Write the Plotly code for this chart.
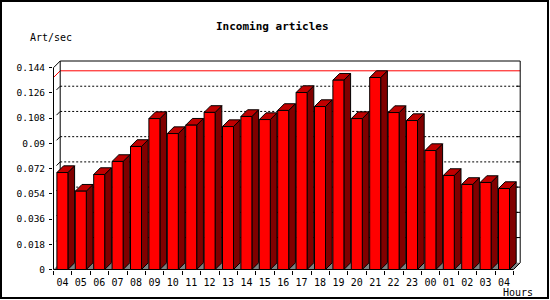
import plotly.graph_objects as go

# ---------------- data ----------------
hours = ["04", "05", "06", "07", "08", "09", "10", "11", "12", "13", "14", "15",
         "16", "17", "18", "19", "20", "21", "22", "23", "00", "01", "02", "03", "04"]
art_per_sec = [0.0692, 0.0559, 0.0678, 0.0771, 0.0878, 0.1077, 0.0970, 0.1030,
               0.1121, 0.1020, 0.1092, 0.1070, 0.1135, 0.1263, 0.1163, 0.1351,
               0.1077, 0.1370, 0.1120, 0.1063, 0.0849, 0.0671, 0.0607, 0.0621,
               0.0578]
y_ticks = [0, 0.018, 0.036, 0.054, 0.072, 0.09, 0.108, 0.126, 0.144]
y_tick_text = ["0", "0.018", "0.036", "0.054", "0.072", "0.09", "0.108", "0.126", "0.144"]
title_text = "Incoming articles"
y_title = "Art/sec"
x_title = "Hours"

# ---------------- geometry ----------------
W, H = 550, 300
L, R, T, B = 53, 29, 55, 30
PW, PH = W - L - R, H - T - B
PX_CAT = 18.4
PX_UNIT = 1401.4
DEPTH = 6.7
dx = DEPTH / PX_CAT
dy = DEPTH / PX_UNIT
bar_off = 3.4 / PX_CAT
bar_w = 11.0 / PX_CAT
x0 = -0.5 / PX_CAT
y0 = -0.5 / PX_UNIT
xrange = [x0, x0 + PW / PX_CAT]
yrange = [y0, y0 + PH / PX_UNIT]

n = len(hours)
top = y_ticks[-1]
vmax = max(art_per_sec)
xl = [k + bar_off for k in range(n)]
xr = [x + bar_w for x in xl]
xc = [x + bar_w / 2 for x in xl]

FONT = "DejaVu Sans Mono"
RED, SIDE, TOPC, GREY = "#ff0000", "#800000", "#c00000", "#808080"


def seg_trace(xs, ys, color="black", width=1, dash="solid", fill=None, fillcolor=None):
    return go.Scatter(x=xs, y=ys, mode="lines", fill=fill, fillcolor=fillcolor,
                      line=dict(color=color, width=width, dash=dash),
                      hoverinfo="skip", showlegend=False)


fig = go.Figure()

# floor (grey)
fig.add_trace(seg_trace([0, n, n + dx, dx, 0], [0, 0, dy, dy, 0],
                        color=GREY, width=0, fill="toself", fillcolor=GREY))

# dotted grid on back wall
gx, gy = [], []
for v in y_ticks[1:-1]:
    gx += [dx, n + dx, None]
    gy += [v + dy, v + dy, None]
fig.add_trace(seg_trace(gx, gy, dash="2px,2px"))

# wall stubs and right ticks
sx, sy = [], []
for v in y_ticks[1:-1]:
    sx += [dx * 0.45, dx, None, n + dx - 0.2, n + dx, None]
    sy += [v + dy * 0.45, v + dy, None, v + dy, v + dy, None]
fig.add_trace(seg_trace(sx, sy))

# max line (red)
fig.add_trace(seg_trace([0, dx, n + dx], [vmax, vmax + dy, vmax + dy], color=RED))

# frame lines: front axis, back wall, floor edges
fx = [0, 0, dx, n + dx, n + dx, n, 0, None, dx, dx]
fy = [0, top, top + dy, top + dy, dy, 0, 0, None, dy, top + dy]
fig.add_trace(seg_trace(fx, fy))

# side faces
sdx, sdy = [], []
for a, v in zip(xr, art_per_sec):
    sdx += [a, a, a + dx, a + dx, a, None]
    sdy += [0, v, v + dy, dy, 0, None]
fig.add_trace(seg_trace(sdx, sdy, fill="toself", fillcolor=SIDE))

# top faces
tx, ty = [], []
for a, b, v in zip(xl, xr, art_per_sec):
    tx += [a, b, b + dx, a + dx, a, None]
    ty += [v, v, v + dy, v + dy, v, None]
fig.add_trace(seg_trace(tx, ty, fill="toself", fillcolor=TOPC))

# front faces
ffx, ffy = [], []
for a, b, v in zip(xl, xr, art_per_sec):
    ffx += [a, b, b, a, a, None]
    ffy += [0, 0, v, v, 0, None]
fig.add_trace(seg_trace(ffx, ffy, fill="toself", fillcolor=RED))


def px_x(p):
    return (p - L) / PW


def px_y(p):
    return (H - B - p) / PH


fig.update_layout(
    width=W, height=H,
    margin=dict(l=L, r=R, t=T, b=B, pad=0),
    paper_bgcolor="white", plot_bgcolor="white",
    font=dict(family=FONT, size=9.5, color="black"),
    xaxis=dict(range=xrange, tickmode="array", tickvals=xc, ticktext=hours, ticks="",
               showgrid=False, zeroline=False, showline=False, fixedrange=True,
               ticklabelstandoff=5,
               tickfont=dict(family=FONT, size=10, color="black"),
               minor=dict(tickmode="array", tickvals=list(range(n + 1)), ticks="outside",
                          ticklen=4, tickwidth=1, tickcolor="black", showgrid=False)),
    yaxis=dict(range=yrange, tickmode="array", tickvals=y_ticks, ticktext=y_tick_text,
               ticks="outside", ticklen=3, tickwidth=1, tickcolor="black",
               showgrid=False, zeroline=False, showline=False, fixedrange=True,
               ticklabelstandoff=2,
               tickfont=dict(family=FONT, size=9.5, color="black")),
    annotations=[
        dict(text="<b>" + title_text + "</b>", xref="paper", yref="paper", x=px_x(272), y=px_y(27),
             xanchor="center", yanchor="middle", showarrow=False, font=dict(family=FONT, size=11)),
        dict(text=y_title, xref="paper", yref="paper", x=px_x(28), y=px_y(38),
             xanchor="left", yanchor="middle", showarrow=False, font=dict(family=FONT, size=10)),
        dict(text=x_title, xref="paper", yref="paper", x=px_x(535), y=px_y(292),
             xanchor="right", yanchor="middle", showarrow=False, font=dict(family=FONT, size=10)),
    ],
    shapes=[dict(type="rect", xref="paper", yref="paper", x0=px_x(1), x1=px_x(548),
                 y0=px_y(298), y1=px_y(1), line=dict(color="black", width=2), layer="above")],
)

fig.write_html("out.html")
